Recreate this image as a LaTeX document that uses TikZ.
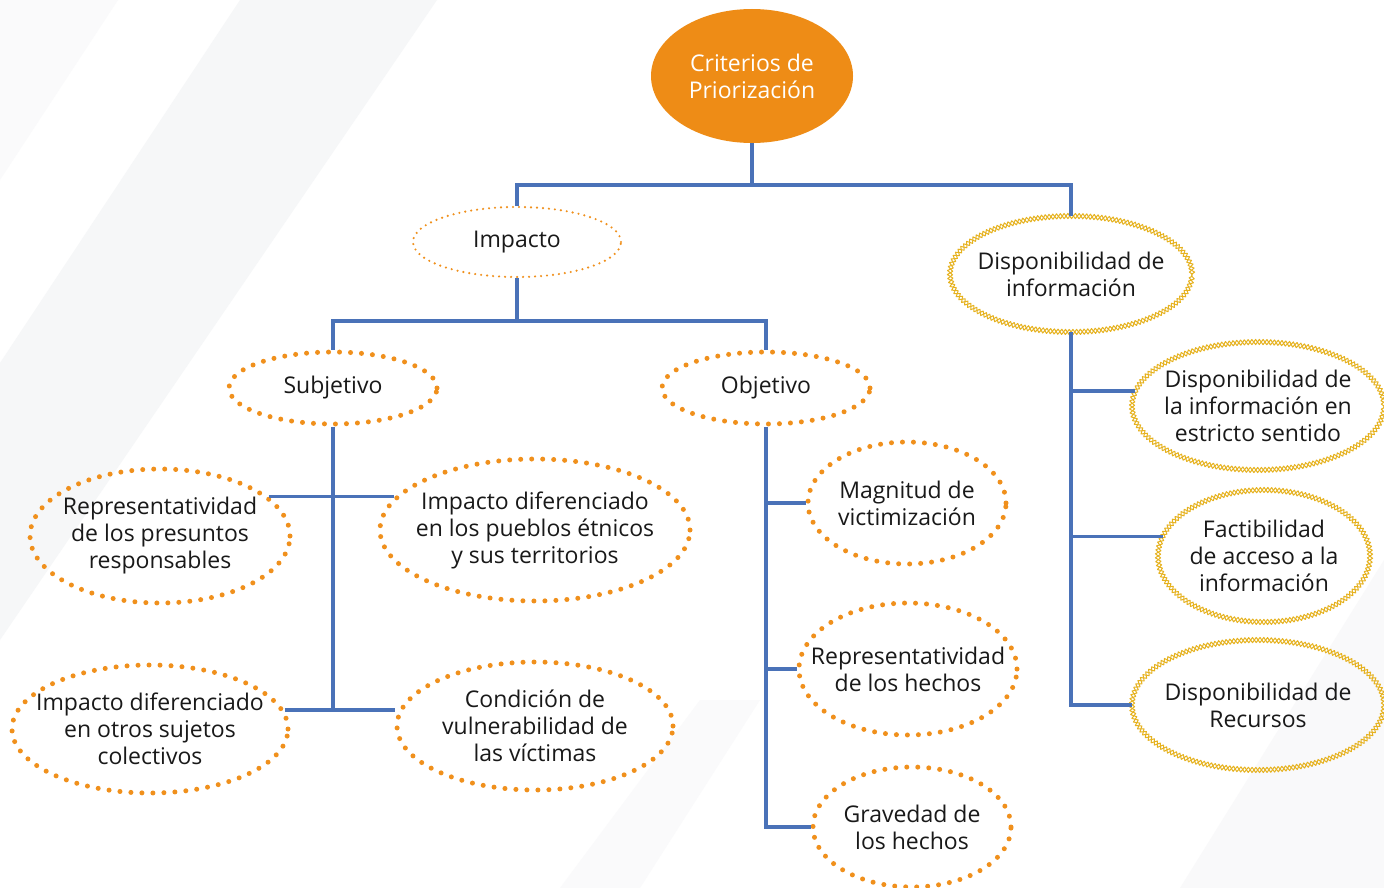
\documentclass[tikz,border=0pt]{standalone}
\usepackage{fontspec}
\setmainfont{Open Sans}
\usetikzlibrary{shapes.geometric,decorations.pathmorphing}

\definecolor{critOrange}{HTML}{EE8C16}
\definecolor{dotOrange}{HTML}{F0901C}
\definecolor{linkBlue}{HTML}{4A72B8}
\definecolor{zigYellow}{HTML}{E6B21F}
\definecolor{bandGray}{HTML}{F6F7F8}

\tikzset{
  bubble/.style={ellipse, inner xsep=-40pt, inner ysep=-10pt, align=center,
    font=\fontsize{23}{27}\selectfont, text=black!90},
  critnode/.style={bubble, fill=critOrange, text=white},
  thindots/.style={bubble, draw=dotOrange, line width=2.4pt,
    dash pattern=on 0pt off 6pt, line cap=round},
  fatdots/.style={bubble, draw=dotOrange, line width=5pt,
    dash pattern=on 0pt off 11pt, line cap=round},
  zigline/.style={draw=zigYellow, line width=1pt, line join=round, decorate,
    decoration={zigzag, segment length=7.5pt, amplitude=2.6pt, #1}},
  zigchain/.style={bubble,
    preaction={zigline=},
    postaction={zigline=mirror}},
  conn/.style={draw=linkBlue, line width=3.2pt}
}

\begin{document}
\begin{tikzpicture}[x=1pt, y=-1pt]
    % Fondo y marco
    \useasboundingbox (0,0) rectangle (1384,888);
    \clip (0,0) rectangle (1384,888);
    \fill[white] (0,0) rectangle (1384,888);
    \fill[bandGray] (240,0) -- (437,0) -- (0,640) -- (0,363) -- cycle;
    \fill[bandGray!60] (0,0) -- (118,0) -- (0,180) -- cycle;
    \fill[bandGray!70] (1384,560) -- (1384,888) -- (1180,888) -- cycle;
    \fill[bandGray!60] (560,888) -- (700,700) -- (760,700) -- (640,888) -- cycle;

    % Raiz
    \node[critnode, minimum width=202, minimum height=134] (crit) at (752,76) {Criterios de\\Priorización};

    % Segundo nivel
    \node[thindots, minimum width=208, minimum height=70] (imp) at (517,242) {Impacto};
    \node[zigchain, minimum width=242, minimum height=116] (disp) at (1071,274) {Disponibilidad de\\información};

    % Impacto: subjetivo y objetivo
    \node[fatdots, minimum width=208, minimum height=72] (subj) at (333,388) {Subjetivo};
    \node[fatdots, minimum width=208, minimum height=72] (obj) at (766,388) {Objetivo};

    % Hojas de subjetivo
    \node[fatdots, minimum width=260, minimum height=134] (presunt) at (160,536) {Representatividad\\de los presuntos\\responsables};
    \node[fatdots, minimum width=310, minimum height=142] (etnic) at (535,530) {Impacto diferenciado\\en los pueblos étnicos\\y sus territorios};
    \node[fatdots, minimum width=276, minimum height=128] (otros) at (150,729) {Impacto diferenciado\\en otros sujetos\\colectivos};
    \node[fatdots, minimum width=276, minimum height=128] (vulner) at (535,726) {Condición de\\vulnerabilidad de\\las víctimas};

    % Hojas de objetivo
    \node[fatdots, minimum width=198, minimum height=122] (magn) at (907,503) {Magnitud de\\victimización};
    \node[fatdots, minimum width=218, minimum height=132] (hechos) at (908,669) {Representatividad\\de los hechos};
    \node[fatdots, minimum width=198, minimum height=120] (grav) at (912,827) {Gravedad de\\los hechos};

    % Hojas de disponibilidad
    \node[zigchain, minimum width=252, minimum height=128] (estric) at (1258,406) {Disponibilidad de\\la información en\\estricto sentido};
    \node[zigchain, minimum width=212, minimum height=132] (factib) at (1264,556) {Factibilidad\\de acceso a la\\información};
    \node[zigchain, minimum width=252, minimum height=130] (recur) at (1258,705) {Disponibilidad de\\Recursos};

    % Conectores de la raiz
    \coordinate (bus1) at (752,185);
    \draw[conn] (crit.south) -- (bus1);
    \draw[conn] (imp.north) |- (bus1) -| (disp.north);

    % Conectores de impacto
    \coordinate (bus2) at (517,321);
    \draw[conn] (imp.south) -- (bus2);
    \draw[conn] (subj.north) |- (bus2) -| (obj.north);

    % Rama subjetivo
    \draw[conn] (subj.south) -- (subj.south |- otros.8);
    \draw[conn] (presunt.20) -- (presunt.20 -| etnic.167);
    \draw[conn] (otros.8) -- (otros.8 -| vulner.177);

    % Rama objetivo
    \draw[conn] (obj.south) |- (grav.west);
    \draw[conn] (obj.south |- magn.west) -- (magn.west);
    \draw[conn] (obj.south |- hechos.west) -- (hechos.west);

    % Rama disponibilidad
    \draw[conn] (disp.south) |- (recur.west);
    \draw[conn] (disp.south |- estric.173) -- (estric.173);
    \draw[conn] (disp.south |- factib.169) -- (factib.169);
\end{tikzpicture}
\end{document}
